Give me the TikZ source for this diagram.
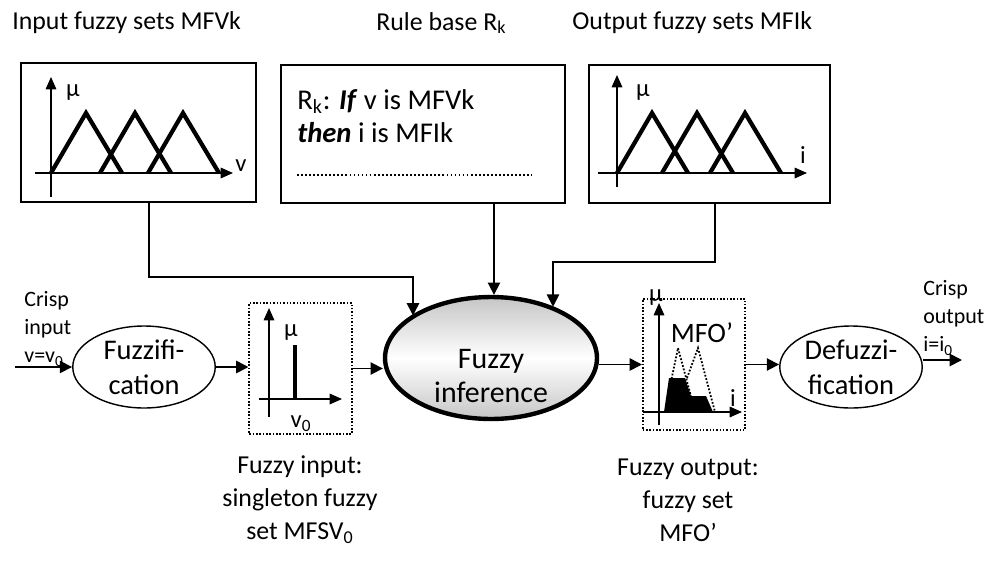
\documentclass[tikz,border=0pt]{standalone}
\usepackage{fontspec}
\setmainfont{Carlito}
\usetikzlibrary{arrows.meta,positioning,shapes.geometric}

\begin{document}
\begin{tikzpicture}[x=0.02cm,y=-0.02cm,
  lbl/.style={font=\fontsize{14.7}{18.8}\selectfont,align=center,inner sep=0pt},
  note/.style={font=\fontsize{12.5}{15.9}\selectfont,align=left,inner sep=0pt},
  rtxt/.style={font=\fontsize{16.3}{18.8}\selectfont,align=left,inner sep=0pt},
  sym/.style={font=\fontsize{14}{16}\selectfont,inner sep=0pt},
  frame/.style={draw,line width=1pt,minimum height=2.77cm,inner sep=0pt},
  dotbox/.style={draw,densely dotted,line width=0.9pt,minimum width=2.05cm,minimum height=2.62cm,inner sep=0pt},
  proc/.style={draw,ellipse,line width=0.8pt,minimum width=2.85cm,minimum height=1.64cm,inner sep=0pt,align=center,font=\fontsize{16.2}{20}\selectfont},
  core/.style={draw,ellipse,line width=2.5pt,minimum width=4.24cm,minimum height=2.44cm,top color=gray!45,bottom color=gray!45,middle color=white},
  axis/.style={-{Triangle[length=7pt,width=6pt]},line width=0.8pt},
  mf/.style={line width=2.4pt,line join=miter},
  edge/.style={-{Triangle[length=7pt,width=7pt]},line width=1pt}
]
\useasboundingbox (0,0) rectangle (991,565);
\node[lbl,anchor=west] (lblmfv) at (12,23) {Input fuzzy sets MFVk};
\node[lbl,anchor=west] (lblrule) at (376,23) {Rule base R\textsubscript{k}};
\node[lbl,anchor=west] (lblmfi) at (572,23) {Output fuzzy sets MFIk};
\node[frame,minimum width=4.7cm] (mfv) at (138.5,132.5) {};
\node[frame,minimum width=5.68cm] (rule) at (423,134) {};
\node[frame,minimum width=4.82cm] (mfi) at (709.5,134) {};
\draw[axis] (51,197) -- (51,77);
\draw[axis] (35,173) -- (233,173);
\foreach \s in {51,100,148} \draw[mf] (\s,173) -- (\s+35,113) -- (\s+71,173);
\node[sym] (muv) at (73,93) {μ};
\node[sym] (varv) at (241,166) {v};
\node[rtxt,anchor=west] (ruletxt) at (297,116) {R\textsubscript{k}: \textbf{\textit{If}} v is MFVk\\\textbf{\textit{then}} i is MFIk};
\draw[dash pattern=on 1pt off 1.3pt,line width=0.6pt] (297,175) -- (532,175);
\draw[axis] (617,187) -- (617,75);
\draw[axis] (598,173) -- (807,173);
\foreach \s in {617,662,710} \draw[mf] (\s,173) -- (\s+35,113) -- (\s+71,173);
\node[sym] (mui) at (643,93) {μ};
\node[sym] (vari) at (803,155) {i};
\node[note,anchor=west] (cin) at (24,329) {Crisp\\input\\v=v\textsubscript{0}};
\coordinate (vin) at (15,367);
\node[proc] (fuzz) at (144,367) {Fuzzifi-\\cation};
\node[dotbox] (sgl) at (300.5,368.5) {};
\draw[axis] (269,417) -- (269,308);
\draw[axis] (259,399) -- (342,399);
\draw[line width=2.4pt] (295,399) -- (295,345);
\node[sym] (mus) at (291,333) {μ};
\node[sym] (vzero) at (301,424) {v\textsubscript{0}};
\node[core] (infer) at (491,358) {};
\node[font=\fontsize{17}{18.8}\selectfont,align=center,inner sep=0pt] (infertxt) at (491,376) {Fuzzy\\inference};
\node[dotbox] (mfo) at (694,364.5) {};
\fill (664,412) -- (669,378) -- (685,378) -- (691,396) -- (706,396) -- (713,412) -- cycle;
\draw[densely dotted,line width=1pt] (668,396) -- (678,348) -- (692,400) (687,378) -- (698,348) -- (715,412);
\draw[axis] (659,425) -- (659,303);
\draw[axis] (643,412) -- (742,412);
\node[sym] (muo) at (656,298) {μ};
\node[sym,font=\fontsize{16}{18}\selectfont] (mfolbl) at (702,333) {MFO’};
\node[sym] (varo) at (733,398) {i};
\node[proc] (defuzz) at (851,367) {Defuzzi-\\fication};
\node[note,anchor=west] (cout) at (923,318) {Crisp\\output\\i=i\textsubscript{0}};
\coordinate (iout) at (962,360);
\coordinate (kneeL) at (413,277);
\coordinate (kneeR) at (553,262);
\draw[edge] (vin) -- (fuzz.west);
\draw[edge] (fuzz.east) -- (fuzz.east -| sgl.west);
\draw[edge] (sgl.east) -- (sgl.east -| infer.west);
\draw[edge] (mfo.west -| infer.east) -- (mfo.west);
\draw[edge] (mfo.east) -- (mfo.east -| defuzz.west);
\draw[edge] (defuzz.east |- iout) -- (iout);
\draw[edge] ([xshift=0.21cm]mfv.south) |- (kneeL) -- (kneeL |- infer.152);
\draw[edge] ([xshift=1.42cm]rule.south) -- ([xshift=1.42cm]rule.south |- infer.north);
\draw[edge] ([xshift=0.11cm]mfi.south) |- (kneeR) -- (kneeR |- infer.39);
\node[lbl] (fin) at (300,500) {Fuzzy input:\\singleton fuzzy\\set MFSV\textsubscript{0}};
\node[lbl] (fout) at (688,500) {Fuzzy output:\\fuzzy set\\MFO’};
\end{tikzpicture}
\end{document}
